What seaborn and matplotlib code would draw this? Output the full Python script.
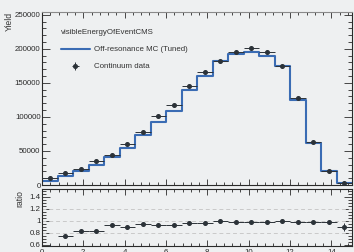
import numpy as np
import pandas as pd
import matplotlib
matplotlib.use("Agg")
import matplotlib.pyplot as plt
from matplotlib.ticker import MultipleLocator
from matplotlib.lines import Line2D
import seaborn as sns

# ---- data ----
bin_edges = [0.0, 0.75, 1.5, 2.25, 3.0, 3.75, 4.5, 5.25, 6.0, 6.75, 7.5,
             8.25, 9.0, 9.75, 10.5, 11.25, 12.0, 12.75, 13.5, 14.25, 15.0]
mc_yield = [5500, 12900, 20100, 28900, 41000, 54200, 72800, 93100, 108500, 139700,
            159700, 182000, 192100, 195500, 190100, 174000, 125200, 61200, 20300, 3200]
data_yield = [10300, 17200, 24200, 34800, 44300, 60900, 77400, 101200, 117900, 145500,
              165500, 182000, 196000, 201500, 196000, 174000, 127800, 62400, 20900, 3600]
ratio_err = [0.05, 0.03, 0.02, 0.015, 0.012, 0.012, 0.01, 0.01, 0.01, 0.01,
             0.01, 0.01, 0.01, 0.01, 0.01, 0.01, 0.012, 0.015, 0.025, 0.07]
y_ticks_main = [0, 50000, 100000, 150000, 200000, 250000]
y_ticks_ratio = [0.6, 0.8, 1.0, 1.2, 1.4]
y_ticklabels_ratio = ["0.6", "0.8", "1", "1.2", "1.4"]
x_ticks = [0, 2, 4, 6, 8, 10, 12, 14]
ratio_lines = [0.8, 1.0, 1.2]

legend_title = "visibleEnergyOfEventCMS"
mc_label = "Off-resonance MC (Tuned)"
data_label = "Continuum data"

edges = np.array(bin_edges)
centers = 0.5 * (edges[:-1] + edges[1:])
halfw = 0.5 * (edges[1:] - edges[:-1])
mc = np.array(mc_yield, float)
data = np.array(data_yield, float)
ratio = mc / data
rerr = np.array(ratio_err)
derr = data * rerr / ratio
step_df = pd.DataFrame({"x": edges, "y": np.append(mc, mc[-1])})

sns.set_theme(style="ticks")
bg = "#eef0f1"
plt.rcParams["font.family"] = ["Liberation Sans", "DejaVu Sans"]

W, H = 354, 252
fig = plt.figure(figsize=(W / 100, H / 100), dpi=100, facecolor=bg)

def px_axes(x0, y0, x1, y1):
    return fig.add_axes([x0 / W, 1 - y1 / H, (x1 - x0) / W, (y1 - y0) / H])

ax = px_axes(42, 12, 352, 185)
axr = px_axes(42, 189, 352, 246)

blue = "#3a6cb4"
dark = "#2b3238"
fs = 5.7

for a in (ax, axr):
    a.set_facecolor(bg)
    for s in a.spines.values():
        s.set_color("#2a2a2a")
        s.set_linewidth(0.8)
ax.spines["top"].set_color("#8a8a8a")

# main panel
sns.lineplot(data=step_df, x="x", y="y", drawstyle="steps-post", estimator=None,
             sort=False, color=blue, linewidth=1.5, ax=ax)
ax.errorbar(centers, data, xerr=halfw, yerr=derr, fmt="o", color=dark,
            markersize=2.6, elinewidth=0.7, capsize=0, zorder=5)
ax.set_xlim(edges[0], edges[-1])
ax.set_ylim(0, 254000)
ax.set_yticks(y_ticks_main)
ax.set_yticklabels([str(v) for v in y_ticks_main])
ax.yaxis.set_minor_locator(MultipleLocator(10000))
ax.set_xticks(x_ticks)
ax.xaxis.set_minor_locator(MultipleLocator(0.4))
ax.set_xticklabels([])
ax.set_xlabel("")
ax.set_ylabel("")
ax.tick_params(axis="both", which="both", direction="in", top=True, right=True,
               labelsize=fs, colors="#2a2a2a", width=0.6)
ax.tick_params(axis="y", which="major", length=6, pad=1)
ax.tick_params(axis="y", which="minor", length=3)
ax.tick_params(axis="x", which="major", length=4.5)
ax.tick_params(axis="x", which="minor", length=2.2)

mc_handle = Line2D([], [], color=blue, lw=1.5)
eb = ax.errorbar([np.nan], [np.nan], xerr=[1], yerr=[1], fmt="o", color=dark,
                 markersize=2.6, elinewidth=0.7)
leg = ax.legend([mc_handle, eb], [mc_label, data_label], title=legend_title,
                loc="upper left", bbox_to_anchor=(0.062, 0.9), frameon=False,
                fontsize=fs, title_fontsize=fs, handlelength=3.6,
                handletextpad=0.5, labelspacing=1.2, alignment="left",
                borderaxespad=0, borderpad=0)
for t in leg.get_texts():
    t.set_color("#333333")
leg.get_title().set_color("#333333")

fig.text(9 / W, 1 - 12 / H, "Yield", rotation=90, ha="center", va="top",
         fontsize=6.2, color="#333333")

# ratio panel
for v in ratio_lines:
    axr.axhline(v, color="#c9c9c9", lw=0.7, ls=(0, (4, 3)), zorder=1)
axr.errorbar(centers, ratio, xerr=halfw, yerr=rerr, fmt="o", color=dark,
             markersize=2.6, elinewidth=0.7, capsize=0, zorder=5)
axr.set_xlim(edges[0], edges[-1])
axr.set_ylim(0.575, 1.525)
axr.set_yticks(y_ticks_ratio)
axr.set_yticklabels(y_ticklabels_ratio)
axr.yaxis.set_minor_locator(MultipleLocator(0.05))
axr.set_xticks(x_ticks)
axr.set_xticklabels([str(v) for v in x_ticks])
axr.xaxis.set_minor_locator(MultipleLocator(0.4))
axr.tick_params(axis="both", which="both", direction="in", top=True, right=True,
                labelsize=fs, colors="#2a2a2a", width=0.6)
axr.tick_params(axis="y", which="major", length=6, pad=1)
axr.tick_params(axis="y", which="minor", length=3)
axr.tick_params(axis="x", which="major", length=4, pad=2)
axr.tick_params(axis="x", which="minor", length=2)
fig.text(20 / W, 1 - 190 / H, "ratio", rotation=90, ha="center", va="top",
         fontsize=6.2, color="#333333")

fig.savefig("out.png", dpi=100, facecolor=bg)
